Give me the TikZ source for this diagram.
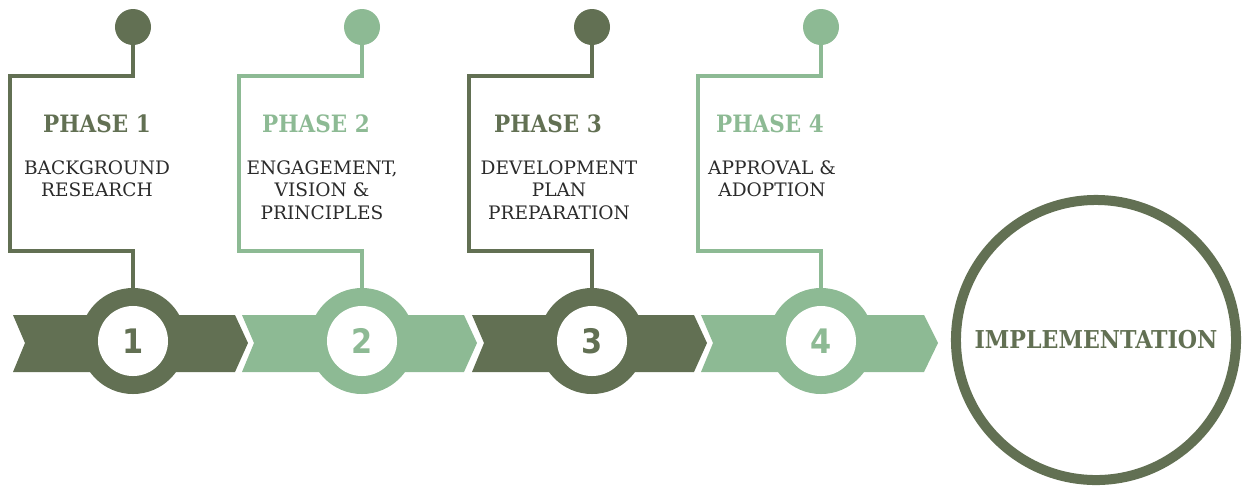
\documentclass[tikz,border=0pt]{standalone}
\usepackage{fontspec}
\setmainfont{DejaVu Serif}
\newfontfamily\headfont{DejaVu Serif Condensed}
\newfontfamily\digitfont{DejaVu Sans Condensed}
\usetikzlibrary{positioning}

\definecolor{darkleaf}{HTML}{627053}
\definecolor{paleleaf}{HTML}{8DBA94}
\definecolor{inkgrey}{HTML}{2B2B2B}

\begin{document}
\begin{tikzpicture}[x=0.025cm, y=-0.025cm,
		wire/.style={line width=2.2pt},
		dot/.style={circle, fill, minimum size=0.9cm, inner sep=0pt},
		ring/.style={circle, fill, minimum size=2.65cm, inner sep=0pt},
		hole/.style={circle, fill=white, minimum size=1.75cm, inner sep=0pt,
			font=\digitfont\bfseries\fontsize{24}{24}\selectfont},
		phase/.style={anchor=base, inner sep=0pt, font=\headfont\bfseries\fontsize{17}{20}\selectfont},
		task/.style={anchor=north, align=center, inner sep=0pt, text=inkgrey,
			font=\fontsize{13.2}{16}\selectfont}]
	\useasboundingbox (0,0) rectangle (1244,489);

	% arrow bands
	\fill[darkleaf] (13,315) -- (235,315) -- (248,343) -- (235,372) -- (13,372) -- (25,343) -- cycle;
	\fill[paleleaf] (242,315) -- (464,315) -- (477,343) -- (464,372) -- (242,372) -- (254,343) -- cycle;
	\fill[darkleaf] (472,315) -- (694,315) -- (707,343) -- (694,372) -- (472,372) -- (484,343) -- cycle;
	\fill[paleleaf] (701,315) -- (924,315) -- (938,343) -- (924,372) -- (701,372) -- (713,343) -- cycle;

	% numbered rings
	\node[ring, darkleaf] (ring1) at (133,341) {};
	\node[ring, paleleaf] (ring2) at (362,341) {};
	\node[ring, darkleaf] (ring3) at (592,341) {};
	\node[ring, paleleaf] (ring4) at (821,341) {};

	\node[hole, text=darkleaf] (num1) at (ring1) {1};
	\node[hole, text=paleleaf] (num2) at (ring2) {2};
	\node[hole, text=darkleaf] (num3) at (ring3) {3};
	\node[hole, text=paleleaf] (num4) at (ring4) {4};

	% pins on top
	\node[dot, darkleaf] (dot1) at (133,27) {};
	\node[dot, paleleaf] (dot2) at (362,27) {};
	\node[dot, darkleaf] (dot3) at (592,27) {};
	\node[dot, paleleaf] (dot4) at (821,27) {};

	\coordinate (up1) at (10,76);
	\coordinate (dn1) at (10,251);
	\coordinate (up2) at (239,76);
	\coordinate (dn2) at (239,251);
	\coordinate (up3) at (469,76);
	\coordinate (dn3) at (469,251);
	\coordinate (up4) at (698,76);
	\coordinate (dn4) at (698,251);

	\draw[wire, darkleaf] (dot1) |- (up1) -- (dn1) -| (ring1);
	\draw[wire, paleleaf] (dot2) |- (up2) -- (dn2) -| (ring2);
	\draw[wire, darkleaf] (dot3) |- (up3) -- (dn3) -| (ring3);
	\draw[wire, paleleaf] (dot4) |- (up4) -- (dn4) -| (ring4);

	% labels
	\node[phase, text=darkleaf] (head1) at (97,132) {PHASE 1};
	\node[phase, text=paleleaf] (head2) at (316,132) {PHASE 2};
	\node[phase, text=darkleaf] (head3) at (548,132) {PHASE 3};
	\node[phase, text=paleleaf] (head4) at (770,132) {PHASE 4};

	\node[task] (body1) at (97,160) {BACKGROUND\\RESEARCH};
	\node[task] (body2) at (322,160) {ENGAGEMENT,\\VISION \&\\PRINCIPLES};
	\node[task] (body3) at (559,160) {DEVELOPMENT\\PLAN\\PREPARATION};
	\node[task] (body4) at (772,160) {APPROVAL \&\\ADOPTION};

	\node[circle, draw=darkleaf, line width=0.25cm, minimum size=7cm, inner sep=0pt,
		text=darkleaf, font=\headfont\bfseries\fontsize{17.5}{20}\selectfont] (impl) at (1096,340) {IMPLEMENTATION};
\end{tikzpicture}
\end{document}
